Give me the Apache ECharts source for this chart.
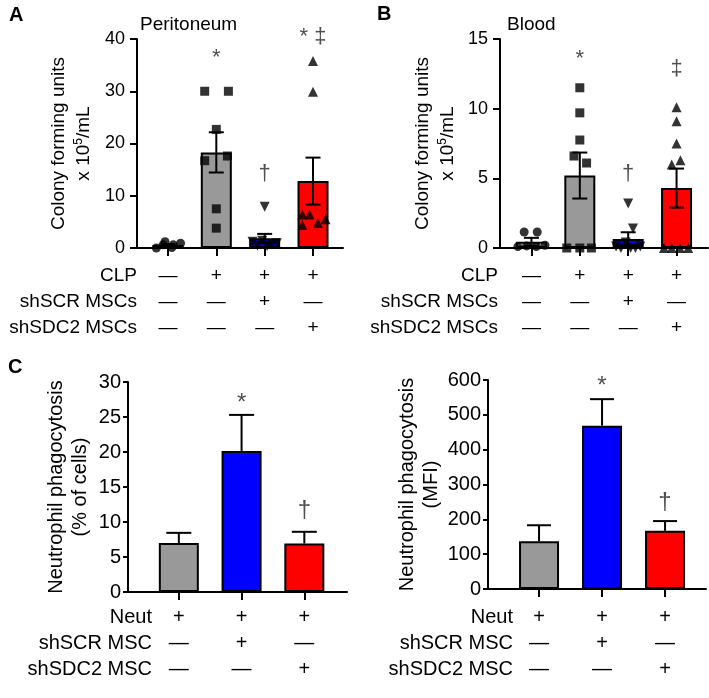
<!DOCTYPE html>
<html><head><meta charset="utf-8">
<script src="https://cdn.jsdelivr.net/npm/echarts@6/dist/echarts.min.js"></script>
<style>html,body{margin:0;padding:0;background:#fff}#c{width:709px;height:698px}</style>
</head><body><div id="c"></div><script>
// ---------- data ----------
const rowNamesAB = ['CLP', 'shSCR MSCs', 'shSDC2 MSCs'];
const rowSignsAB = [['—','+','+','+'], ['—','—','+','—'], ['—','—','—','+']];
const rowNamesCD = ['Neut', 'shSCR MSC', 'shSDC2 MSC'];
const rowSignsCD = [['+','+','+'], ['—','+','—'], ['—','—','+']];

// Panel A: Peritoneum (CFU x10^5/mL)
const periMean = [0.57, 18.3, 1.85, 12.8];
const periSem = [0.2, 3.85, 0.85, 4.5];
const periCircles = [0, 0.6, 1.2, 0.1, 0.6, 0.9];
const periCirclesDx = [-0.24, -0.1, -0.06, 0.08, 0.11, 0.26];
const periSquares = [30, 30, 22.7, 16.7, 17.6, 7.5, 3.8];
const periSquaresDx = [-0.24, 0.25, 0, -0.24, 0.23, 0, 0];
const periDown = [7.9, 1.2, 0.5, 1.4, 0.4, 0.7, 0.9];
const periDownDx = [0, -0.25, -0.15, -0.05, 0.05, 0.15, 0.25];
const periUp = [35.8, 29.9, 4.4, 6.4, 6.4, 4.8, 5.5];
const periUpDx = [0, 0, -0.22, -0.22, -0.07, 0.1, 0.26];
const periSig = ['', '*', '†', '* ‡'];
const periSigY = [0, 36.4, 14.2, 40.4];

// Panel B: Blood
const bloodMean = [0.45, 5.2, 0.65, 4.3];
const bloodSem = [0.28, 1.65, 0.48, 1.4];
const bloodCircles = [1.15, 1.15, 0.1, 0.15, 0.1, 0.2];
const bloodCirclesDx = [-0.15, 0.12, -0.28, -0.1, 0.1, 0.28];
const bloodSquares = [11.5, 9.7, 7.75, 6.6, 6.1, 0, 0, 0];
const bloodSquaresDx = [0, 0, 0, -0.12, 0.14, -0.27, 0, 0.24];
const bloodDown = [3.2, 1.4, 0.4, 0.1, 0.1, 0, 0, 0];
const bloodDownDx = [0, 0.1, -0.05, -0.25, 0.25, -0.15, 0.05, 0.15];
const bloodUp = [10.1, 9.1, 7.5, 6.0, 6.3, 0, 0, 0, 0];
const bloodUpDx = [0, 0, 0, -0.1, 0.08, -0.26, -0.1, 0.07, 0.24];
const bloodSig = ['', '*', '†', '‡'];
const bloodSigY = [0, 13.6, 5.3, 12.85];

// Panel C: Neutrophil phagocytosis (% of cells)
const pctMean = [7.0, 20.15, 6.93];
const pctSem = [1.45, 5.15, 1.67];
const pctSig = ['', '*', '†'];
const pctSigY = [0, 27.0, 11.7];

// Panel D: Neutrophil phagocytosis (MFI)
const mfiMean = [137, 469, 167];
const mfiSem = [46, 76, 28];
const mfiSig = ['', '*', '†'];
const mfiSigY = [0, 582, 250];

const colorsAB = ['#ffffff', '#999999', '#0000ff', '#ff0000'];
const colorsCD = ['#999999', '#0000ff', '#ff0000'];

// ---------- chart ----------
const FONT = '"Liberation Sans", Arial, Helvetica, sans-serif';
const BLACK = '#000';
const chart = echarts.init(document.getElementById('c'));

function xAx(gi, min, max, n, signs, margin, fs) {
  const cats = Array.from({length: n}, (_, i) => i);
  return {
    type: 'value', gridIndex: gi, min: min, max: max,
    axisLine: {show: true, onZero: false, lineStyle: {color: BLACK, width: 2}},
    axisTick: {show: true, customValues: cats, length: 8, lineStyle: {color: BLACK, width: 2}},
    axisLabel: {show: true, customValues: cats, margin: margin, fontSize: fs, lineHeight: 26,
      color: BLACK, fontFamily: FONT,
      formatter: v => signs.map(r => r[Math.round(v)]).join('\n')},
    splitLine: {show: false}
  };
}
function yAx(gi, max, interval, name, gap, fs, nfs, tickLen, margin, lh) {
  return {
    type: 'value', gridIndex: gi, min: 0, max: max, interval: interval,
    axisLine: {show: true, onZero: false, lineStyle: {color: BLACK, width: 2}},
    axisTick: {show: true, length: tickLen, lineStyle: {color: BLACK, width: 2}},
    axisLabel: {fontSize: fs, color: BLACK, margin: margin, fontFamily: FONT},
    splitLine: {show: false},
    name: name, nameLocation: 'middle', nameGap: gap,
    nameTextStyle: {fontSize: nfs, lineHeight: lh, color: BLACK, fontFamily: FONT,
      rich: {sup: {fontSize: 12, color: BLACK, fontFamily: FONT, padding: [0, 0, 9, 0]}}}
  };
}
function bars(gi, mean, colors, width) {
  return {
    type: 'bar', xAxisIndex: gi, yAxisIndex: gi, barWidth: width, z: 2,
    data: mean.map((m, i) => ({value: [i, m], itemStyle: {color: colors[i]}})),
    itemStyle: {borderColor: BLACK, borderWidth: 2}, silent: true
  };
}
function errs(gi, mean, sem, twoSided, cap) {
  return {
    type: 'custom', xAxisIndex: gi, yAxisIndex: gi, z: 6, silent: true,
    data: mean.map((m, i) => [i, m, sem[i]]),
    encode: {x: 0, y: 1},
    renderItem: (params, api) => {
      const x = api.value(0), m = api.value(1), s = api.value(2);
      const top = api.coord([x, m + s]);
      const bot = api.coord([x, twoSided ? Math.max(0, m - s) : m]);
      const st = {stroke: BLACK, lineWidth: 2};
      const ch = [
        {type: 'line', shape: {x1: top[0], y1: top[1], x2: bot[0], y2: bot[1]}, style: st},
        {type: 'line', shape: {x1: top[0] - cap / 2, y1: top[1], x2: top[0] + cap / 2, y2: top[1]}, style: st}
      ];
      if (twoSided) ch.push({type: 'line', shape: {x1: bot[0] - cap / 2, y1: bot[1], x2: bot[0] + cap / 2, y2: bot[1]}, style: st});
      return {type: 'group', children: ch};
    }
  };
}
function pts(gi, cat, vals, dx, symbol, size, rot) {
  return {
    type: 'scatter', xAxisIndex: gi, yAxisIndex: gi, z: 4, silent: true, clip: false,
    symbol: symbol, symbolSize: size, symbolRotate: rot || 0,
    itemStyle: {color: BLACK},
    data: vals.map((v, i) => [cat + dx[i], v])
  };
}
function sig(gi, texts, ys, fs) {
  return {
    type: 'scatter', xAxisIndex: gi, yAxisIndex: gi, z: 7, silent: true, clip: false,
    symbolSize: 1, itemStyle: {color: 'rgba(0,0,0,0)'},
    data: texts.map((t, i) => [i, ys[i], t]).filter(d => d[2]),
    label: {show: true, position: 'inside', formatter: p => p.data[2], fontSize: fs,
      color: '#222', fontFamily: FONT}
  };
}

const option = {
  backgroundColor: '#fff',
  animation: false,
  grid: [
    {left: 137, top: 39, width: 206, height: 209},
    {left: 500, top: 39, width: 208, height: 209},
    {left: 128, top: 382, width: 219, height: 210},
    {left: 488, top: 380, width: 218, height: 209}
  ],
  xAxis: [
    xAx(0, -0.64, 3.62, 4, rowSignsAB, 15, 19),
    xAx(1, -0.65, 3.65, 4, rowSignsAB, 15, 19),
    xAx(2, -0.81, 2.68, 3, rowSignsCD, 12, 20),
    xAx(3, -0.81, 2.65, 3, rowSignsCD, 15, 20)
  ],
  yAxis: [
    yAx(0, 40, 10, 'Colony forming units\nx 10{sup|5}/mL', 41, 18, 19, 7, 12, 25),
    yAx(1, 15, 5, 'Colony forming units\nx 10{sup|5}/mL', 40, 18, 19, 7, 12, 25),
    yAx(2, 30, 5, 'Neutrophil phagocytosis\n(% of cells)', 36, 20, 20, 5, 7, 24),
    yAx(3, 600, 100, 'Neutrophil phagocytosis\n(MFI)', 44, 20, 20, 5, 7, 24)
  ],
  series: [
    bars(0, periMean, colorsAB, 31),
    pts(0, 0, periCircles, periCirclesDx, 'circle', 9),
    pts(0, 1, periSquares, periSquaresDx, 'rect', 9),
    pts(0, 2, periDown, periDownDx, 'triangle', 10, 180),
    pts(0, 3, periUp, periUpDx, 'triangle', 10),
    errs(0, periMean, periSem, true, 15),
    sig(0, periSig, periSigY, 22),

    bars(1, bloodMean, colorsAB, 31),
    pts(1, 0, bloodCircles, bloodCirclesDx, 'circle', 9),
    pts(1, 1, bloodSquares, bloodSquaresDx, 'rect', 9),
    pts(1, 2, bloodDown, bloodDownDx, 'triangle', 10, 180),
    pts(1, 3, bloodUp, bloodUpDx, 'triangle', 10),
    errs(1, bloodMean, bloodSem, true, 15),
    sig(1, bloodSig, bloodSigY, 22),

    bars(2, pctMean, colorsCD, 40),
    errs(2, pctMean, pctSem, false, 25),
    sig(2, pctSig, pctSigY, 24),

    bars(3, mfiMean, colorsCD, 40),
    errs(3, mfiMean, mfiSem, false, 24),
    sig(3, mfiSig, mfiSigY, 24)
  ],
  graphic: [
    {type: 'text', x: 9, y: 5, style: {text: 'A', fontSize: 20, fontWeight: 'bold', fontFamily: FONT, fill: BLACK}},
    {type: 'text', x: 377, y: 4, style: {text: 'B', fontSize: 20, fontWeight: 'bold', fontFamily: FONT, fill: BLACK}},
    {type: 'text', x: 8, y: 357, style: {text: 'C', fontSize: 20, fontWeight: 'bold', fontFamily: FONT, fill: BLACK}},
    {type: 'text', x: 140, y: 25, style: {text: 'Peritoneum', fontSize: 19, fontFamily: FONT, fill: BLACK, verticalAlign: 'middle'}},
    {type: 'text', x: 507, y: 25, style: {text: 'Blood', fontSize: 19, fontFamily: FONT, fill: BLACK, verticalAlign: 'middle'}},
    {type: 'text', x: 137, y: 302, style: {text: rowNamesAB.join('\n'), align: 'right', verticalAlign: 'middle', lineHeight: 26, fontSize: 19, fontFamily: FONT, fill: BLACK}},
    {type: 'text', x: 498, y: 302, style: {text: rowNamesAB.join('\n'), align: 'right', verticalAlign: 'middle', lineHeight: 26, fontSize: 19, fontFamily: FONT, fill: BLACK}},
    {type: 'text', x: 152, y: 643, style: {text: rowNamesCD.join('\n'), align: 'right', verticalAlign: 'middle', lineHeight: 26, fontSize: 20, fontFamily: FONT, fill: BLACK}},
    {type: 'text', x: 513, y: 643, style: {text: rowNamesCD.join('\n'), align: 'right', verticalAlign: 'middle', lineHeight: 26, fontSize: 20, fontFamily: FONT, fill: BLACK}}
  ]
};
chart.setOption(option);
</script></body></html>
